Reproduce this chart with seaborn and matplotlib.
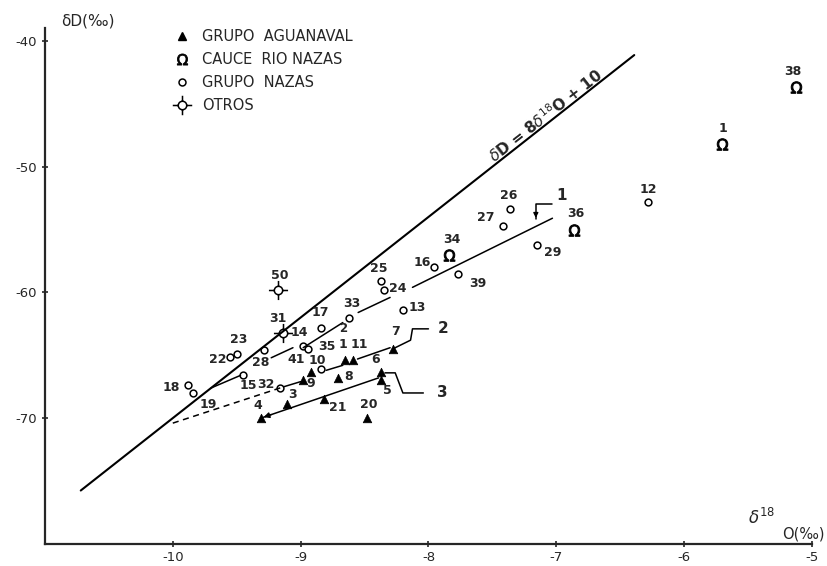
import numpy as np
import pandas as pd
import matplotlib
matplotlib.use("Agg")
import matplotlib.pyplot as plt
from matplotlib.path import Path
from matplotlib.lines import Line2D
import seaborn as sns

# GRUPO AGUANAVAL (triangulos)
agu_lab = ['4', '3', '21', '20', '8', '9', '41', '1', '11', '7', '6', '5']
agu_x = [-9.31, -9.11, -8.82, -8.48, -8.71, -8.98, -8.92, -8.65, -8.59, -8.28, -8.375, -8.375]
agu_y = [-70.0, -68.9, -68.5, -70.0, -66.8, -67.0, -66.3, -65.4, -65.4, -64.5, -66.3, -67.0]

# CAUCE RIO NAZAS
cau_lab = ['38', '1', '36', '34']
cau_x = [-5.125, -5.70, -6.86, -7.84]
cau_y = [-43.7, -48.2, -55.0, -57.0]

# GRUPO NAZAS
naz_lab = ['12', '26', '27', '29', '16', '39', '25', '24', '13', '33', '17',
           '14', '35', '10', '32', '15', '28', '22', '23', '18', '19']
naz_x = [-6.28, -7.36, -7.42, -7.15, -7.96, -7.77, -8.37, -8.35, -8.20, -8.62, -8.84,
         -8.98, -8.94, -8.84, -9.16, -9.45, -9.29, -9.55, -9.50, -9.88, -9.84]
naz_y = [-52.8, -53.4, -54.7, -56.2, -58.0, -58.5, -59.1, -59.8, -61.4, -62.0, -62.8,
         -64.3, -64.5, -66.1, -67.6, -66.6, -64.6, -65.1, -64.9, -67.4, -68.0]

# OTROS
otr_lab = ['50', '31']
otr_x = [-9.18, -9.14]
otr_y = [-59.8, -63.2]

# recta meteorica dD = 8 d18O + 10
lmm_x = np.array([-10.72, -6.39])

# rectas de ajuste (tramos)
recta1 = [([-9.70, -9.47], [-67.6, -66.6]), ([-9.23, -9.06], [-65.2, -64.4]),
          ([-8.98, -8.67], [-64.4, -62.4]), ([-8.55, -8.30], [-61.6, -60.4]),
          ([-8.125, -7.03], [-59.6, -54.1])]
recta2 = [([-9.13, -9.00], [-67.5, -67.1]), ([-8.80, -8.67], [-66.2, -65.8]),
          ([-8.555, -8.30], [-65.3, -64.4])]
recta2_disc = ([-10.0, -9.13], [-70.4, -67.5])
recta3 = ([-9.31, -8.39], [-70.0, -66.8])

llave1 = ([-7.03, -7.16, -7.16], [-53.0, -53.0, -54.2])
llave2 = ([-8.28, -8.14, -8.125, -8.0], [-64.5, -63.8, -62.9, -62.9])
llave3 = ([-8.34, -8.26, -8.20, -8.04], [-66.4, -66.4, -68.0, -68.0])
llaves_lab = [('1', -7.0, -52.3), ('2', -7.93, -62.9), ('3', -7.93, -68.0)]

# desplazamiento de las etiquetas (px)
off_agu = {'4': (-3, 13), '3': (6, 10), '21': (14, -8), '20': (2, 14), '8': (11, 1),
           '9': (8, -3), '41': (-15, 12), '1': (-2, 16), '11': (6, 16), '7': (3, 17),
           '6': (-5, 12), '5': (7, -10)}
off_cau = {'38': (-3, 16), '1': (0, 16), '36': (2, 16), '34': (3, 15)}
off_naz = {'12': (0, 12), '26': (-2, 14), '27': (-17, 8), '29': (16, -8), '16': (-11, 5),
           '39': (20, -10), '25': (-2, 13), '24': (14, 1), '13': (14, 2), '33': (3, 14),
           '17': (-1, 15), '14': (-4, 14), '35': (19, 2), '10': (-4, 9), '32': (-14, 3),
           '15': (5, -10), '28': (-3, -12), '22': (-13, -3), '23': (2, 14), '18': (-17, -2),
           '19': (15, -12)}
off_otr = {'50': (2, 14), '31': (-5, 14)}

sns.set_style("ticks")
plt.rcParams['font.family'] = ['DejaVu Sans']

# simbolo OTROS: circulo con cruz
circ = Path.circle((0, 0), 1.0)
brazos = Path([[-2.3, 0], [-1, 0], [1, 0], [2.3, 0], [0, -2.3], [0, -1], [0, 1], [0, 2.3]],
              [Path.MOVETO, Path.LINETO] * 4)
otros_m = Path.make_compound_path(circ, brazos)

fig = plt.figure(figsize=(8.28, 5.66), dpi=100)
ax = fig.add_axes([0.0543, 0.0392, 0.9263, 0.9106])

df_lmm = pd.DataFrame({'x': lmm_x, 'y': 8 * lmm_x + 10})
sns.lineplot(data=df_lmm, x='x', y='y', color='black', lw=1.5, ax=ax)

for tx, ty in recta1 + recta2:
    ax.plot(tx, ty, color='black', lw=1.1)
ax.plot(*recta2_disc, color='black', lw=1.1, ls=(0, (4, 3)))
ax.plot(*recta3, color='black', lw=1.1)
ax.annotate('', xy=(recta3[0][0], recta3[1][0]),
            xytext=(recta3[0][0] + 0.1, recta3[1][0] + 0.35),
            arrowprops=dict(arrowstyle='-|>', color='black', lw=1.1, mutation_scale=8))
for llave in (llave1, llave2, llave3):
    ax.plot(*llave, color='black', lw=1.1)
ax.annotate('', xy=(llave1[0][2], llave1[1][2] - 0.1),
            xytext=(llave1[0][2], llave1[1][2] + 0.6),
            arrowprops=dict(arrowstyle='-|>', color='black', lw=1.0, mutation_scale=7))
for t, lx, ly in llaves_lab:
    ax.text(lx, ly, t, fontsize=11, fontweight='bold', ha='left', va='center')

sns.scatterplot(x=agu_x, y=agu_y, marker='^', color='black', edgecolor='black',
                s=38, linewidth=0.5, ax=ax)
sns.scatterplot(x=cau_x, y=cau_y, marker=r'$\Omega$', color='black', edgecolor='black',
                s=70, linewidth=0.7, ax=ax)
sns.scatterplot(x=naz_x, y=naz_y, marker='o', color='black', facecolor='white',
                edgecolor='black', s=24, linewidth=1.1, ax=ax)
sns.scatterplot(x=otr_x, y=otr_y, marker=otros_m, color='black', facecolor='white',
                edgecolor='black', s=190, linewidth=1.1, ax=ax)

for labs, xs, ys, offs in ((agu_lab, agu_x, agu_y, off_agu), (cau_lab, cau_x, cau_y, off_cau),
                           (naz_lab, naz_x, naz_y, off_naz), (otr_lab, otr_x, otr_y, off_otr)):
    for lab, x, y in zip(labs, xs, ys):
        dx, dy = offs[lab]
        ax.annotate(lab, (x, y), xytext=(dx * 0.72, dy * 0.72), textcoords='offset points',
                    ha='center', va='center', fontsize=9, fontweight='bold')
ax.annotate('2', (-8.67, -62.85), ha='center', va='center', fontsize=8.5, fontweight='bold')

ax.text(-7.08, -45.9, r'$\delta$D = 8$\delta^{18}$O + 10', rotation=38,
        ha='center', va='center', fontsize=11, fontweight='bold')

handles = [Line2D([], [], marker='^', color='black', ls='none', markersize=6),
           Line2D([], [], marker=r'$\Omega$', color='black', ls='none', markersize=8, mew=0.6),
           Line2D([], [], marker='o', mfc='white', mec='black', mew=1.1, ls='none', markersize=5),
           Line2D([], [], marker=otros_m, mfc='white', mec='black', mew=1.1, ls='none', markersize=14)]
ax.legend(handles, ['GRUPO  AGUANAVAL', 'CAUCE  RIO NAZAS', 'GRUPO  NAZAS', 'OTROS'],
          loc='upper left', bbox_to_anchor=(0.148, 1.025), frameon=False, fontsize=10.5,
          handletextpad=0.7, labelspacing=0.55, handlelength=1.4)

ax.set_xlim(-11, -5)
ax.set_ylim(-80, -39)
ax.set_xticks([-10, -9, -8, -7, -6, -5])
ax.set_xticklabels(['-10', '-9', '-8', '-7', '-6', '-5'])
ax.set_yticks([-40, -50, -60, -70])
ax.set_yticklabels(['-40', '-50', '-60', '-70'])
ax.tick_params(direction='inout', length=5, width=1.2, labelsize=9.5, pad=3)
ax.set_xlabel('')
ax.set_ylabel('')
sns.despine(ax=ax)
for sp in ('left', 'bottom'):
    ax.spines[sp].set_linewidth(1.6)

ax.text(0.056, 1.015, 'δD(‰)', transform=ax.transAxes, ha='center', va='center', fontsize=11)
ax.text(0.934, 0.03, r'$\delta^{18}$', transform=ax.transAxes, ha='center', va='bottom', fontsize=12)
ax.text(1.016, 0.004, 'O(‰)', transform=ax.transAxes, ha='right', va='bottom', fontsize=10.5)

fig.savefig('out.png', dpi=100)
